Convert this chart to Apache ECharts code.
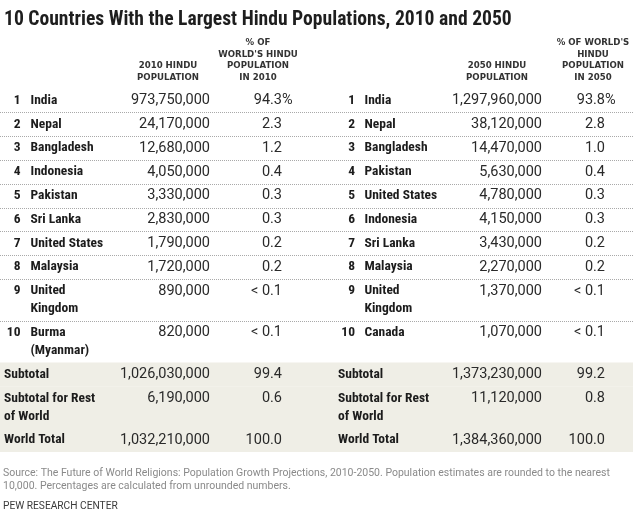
<!DOCTYPE html>
<html><head><meta charset="utf-8">
<script src="https://cdn.jsdelivr.net/npm/echarts@6/dist/echarts.min.js"></script>
<style>html,body{margin:0;padding:0;background:#fff}#c{width:633px;height:517px}</style>
</head><body><div id="c"></div>
<script>
// ---------- DATA ----------
const titleText = '10 Countries With the Largest Hindu Populations, 2010 and 2050';
const header2010Pop = '2010 HINDU\nPOPULATION';
const header2010Pct = '% OF\nWORLD\'S HINDU\nPOPULATION\nIN 2010';
const header2050Pop = '2050 HINDU\nPOPULATION';
const header2050Pct = '% OF WORLD\'S\nHINDU\nPOPULATION\nIN 2050';
const ranks = [1, 2, 3, 4, 5, 6, 7, 8, 9, 10];
const countries2010 = ['India', 'Nepal', 'Bangladesh', 'Indonesia', 'Pakistan', 'Sri Lanka', 'United States', 'Malaysia', 'United\nKingdom', 'Burma\n(Myanmar)'];
const pop2010 = [973750000, 24170000, 12680000, 4050000, 3330000, 2830000, 1790000, 1720000, 890000, 820000];
const pct2010 = ['94.3%', '2.3', '1.2', '0.4', '0.3', '0.3', '0.2', '0.2', '< 0.1', '< 0.1'];
const countries2050 = ['India', 'Nepal', 'Bangladesh', 'Pakistan', 'United States', 'Indonesia', 'Sri Lanka', 'Malaysia', 'United\nKingdom', 'Canada'];
const pop2050 = [1297960000, 38120000, 14470000, 5630000, 4780000, 4150000, 3430000, 2270000, 1370000, 1070000];
const pct2050 = ['93.8%', '2.8', '1.0', '0.4', '0.3', '0.3', '0.2', '0.2', '< 0.1', '< 0.1'];
const summaryLabels = ['Subtotal', 'Subtotal for Rest\nof World', 'World Total'];
const summaryPop2010 = [1026030000, 6190000, 1032210000];
const summaryPct2010 = ['99.4', '0.6', '100.0'];
const summaryPop2050 = [1373230000, 11120000, 1384360000];
const summaryPct2050 = ['99.2', '0.8', '100.0'];
const sourceText = 'Source: The Future of World Religions: Population Growth Projections, 2010-2050. Population estimates are rounded to the nearest\n10,000. Percentages are calculated from unrounded numbers.';
const creditText = 'PEW RESEARCH CENTER';

// ---------- STYLE / LAYOUT ----------
const W = 633;
const BOLD = '"Liberation Sans Narrow","Roboto Condensed","DejaVu Sans Condensed","Liberation Sans",sans-serif';
const NUM = 'Roboto,"Liberation Sans",sans-serif';
const HDR = '"DejaVu Sans",sans-serif';
const SRC = 'Roboto,"Liberation Sans",sans-serif';
const SHADE = '#efeee6';
const SEP = '#a9a9a9';
const ROW_BASE = 23.8, ROW_EXTRA = 18, TEXT_OFF = 12, LINE_H = 18;
const TABLE_TOP = 88.5;
const COL = { rank1: 20.5, name1: 30.5, pop1: 210, pct1: 282, rank2: 355, name2: 364.5, pop2: 542, pct2: 605, sum1: 4, sum2: 338 };

const cv = document.createElement('canvas').getContext('2d');
function fit(text, weight, family, target) {
  cv.font = weight + ' 100px ' + family;
  return Math.round(1000 * target / cv.measureText(text).width) / 10;
}
const boldSize = fit('Bangladesh', 'bold', BOLD, 63);
const numSize = fit('973,750,000', 'normal', NUM, 79);
const titleSize = fit(titleText, 'bold', BOLD, 507);
const hdrSize = fit('POPULATION', 'bold', HDR, 62);
const srcSize = fit(sourceText.split('\n')[0], 'normal', SRC, 604);
const creditSize = fit(creditText, 'normal', SRC, 115);

const lineCount = s => String(s).split('\n').length;
const fmt = n => n.toLocaleString('en-US');

// rows
const rows = [];
ranks.forEach((r, i) => rows.push({ kind: 'country', i, lines: Math.max(lineCount(countries2010[i]), lineCount(countries2050[i])), sep: i < ranks.length - 1 }));
summaryLabels.forEach((s, i) => rows.push({ kind: 'summary', i, lines: lineCount(s), sep: false }));
let acc = 0;
const rowData = rows.map((r, k) => { const h = ROW_BASE + ROW_EXTRA * (r.lines - 1); const d = [acc, h, k]; acc += h; return d; });
const TOTAL = acc;

function renderItem(params, api) {
  const r = rows[api.value(2)];
  const top = api.value(0), h = api.value(1);
  const ch = [];
  const a = api.coord([0, top]), b = api.coord([W, top + h]);
  if (r.kind === 'summary') {
    ch.push({ type: 'rect', z2: 0, shape: { x: a[0], y: a[1], width: b[0] - a[0], height: b[1] - a[1] }, style: { fill: SHADE } });
  } else if (r.sep) {
    const y = Math.round(b[1]) + 0.5;
    ch.push({ type: 'line', z2: 1, shape: { x1: a[0], y1: y, x2: b[0], y2: y }, style: { stroke: SEP, lineWidth: 1, lineDash: [1, 1] } });
  }
  const ty = top + TEXT_OFF;
  function txt(x, s, align, bold) {
    const p = api.coord([x, ty]);
    ch.push({ type: 'text', z2: 5, x: p[0], y: p[1] - LINE_H / 2, style: {
      text: s, align: align, verticalAlign: 'top', lineHeight: LINE_H,
      fontFamily: bold ? BOLD : NUM, fontWeight: bold ? 'bold' : 'normal',
      fontSize: bold ? boldSize : numSize, fill: bold ? '#1c1c1c' : '#2a2a2a' } });
  }
  function pct(x, s) {
    if (s.endsWith('%')) { txt(x, s.slice(0, -1), 'right', false); txt(x, '%', 'left', false); }
    else txt(x, s, 'right', false);
  }
  if (r.kind === 'country') {
    const i = r.i;
    txt(COL.rank1, String(ranks[i]), 'right', true);
    txt(COL.name1, countries2010[i], 'left', true);
    txt(COL.pop1, fmt(pop2010[i]), 'right', false);
    pct(COL.pct1, pct2010[i]);
    txt(COL.rank2, String(ranks[i]), 'right', true);
    txt(COL.name2, countries2050[i], 'left', true);
    txt(COL.pop2, fmt(pop2050[i]), 'right', false);
    pct(COL.pct2, pct2050[i]);
  } else {
    const i = r.i;
    txt(COL.sum1, summaryLabels[i], 'left', true);
    txt(COL.pop1, fmt(summaryPop2010[i]), 'right', false);
    pct(COL.pct1, summaryPct2010[i]);
    txt(COL.sum2, summaryLabels[i], 'left', true);
    txt(COL.pop2, fmt(summaryPop2050[i]), 'right', false);
    pct(COL.pct2, summaryPct2050[i]);
  }
  return { type: 'group', children: ch };
}

function hdr(x, s) {
  return { type: 'text', x: x, y: 83.3, style: { text: s, align: 'center', verticalAlign: 'bottom', lineHeight: 11.5,
    fontFamily: HDR, fontWeight: 'bold', fontSize: hdrSize, fill: '#333333' } };
}

const chart = echarts.init(document.getElementById('c'), null, { renderer: 'canvas' });
chart.setOption({
  animation: false,
  grid: { left: 0, right: 0, top: TABLE_TOP, height: TOTAL, containLabel: false },
  xAxis: { type: 'value', min: 0, max: W, show: false },
  yAxis: { type: 'value', min: 0, max: TOTAL, inverse: true, show: false },
  series: [{ type: 'custom', renderItem: renderItem, data: rowData, encode: { x: -1, y: 0 }, clip: false, silent: true }],
  graphic: [
    { type: 'text', x: 4, y: 20.5, style: { text: titleText, align: 'left', verticalAlign: 'middle', fontFamily: BOLD, fontWeight: 'bold', fontSize: titleSize, fill: '#1e1e1e' } },
    hdr(168, header2010Pop), hdr(258, header2010Pct), hdr(497, header2050Pop), hdr(593, header2050Pct),
    { type: 'text', x: 3, y: 466, style: { text: sourceText, align: 'left', verticalAlign: 'top', lineHeight: 13.8, fontFamily: SRC, fontSize: srcSize, fill: '#8a8a8a' } },
    { type: 'text', x: 3, y: 506, style: { text: creditText, align: 'left', verticalAlign: 'middle', fontFamily: SRC, fontSize: creditSize, fill: '#3a3a3a' } }
  ]
});
</script></body></html>
